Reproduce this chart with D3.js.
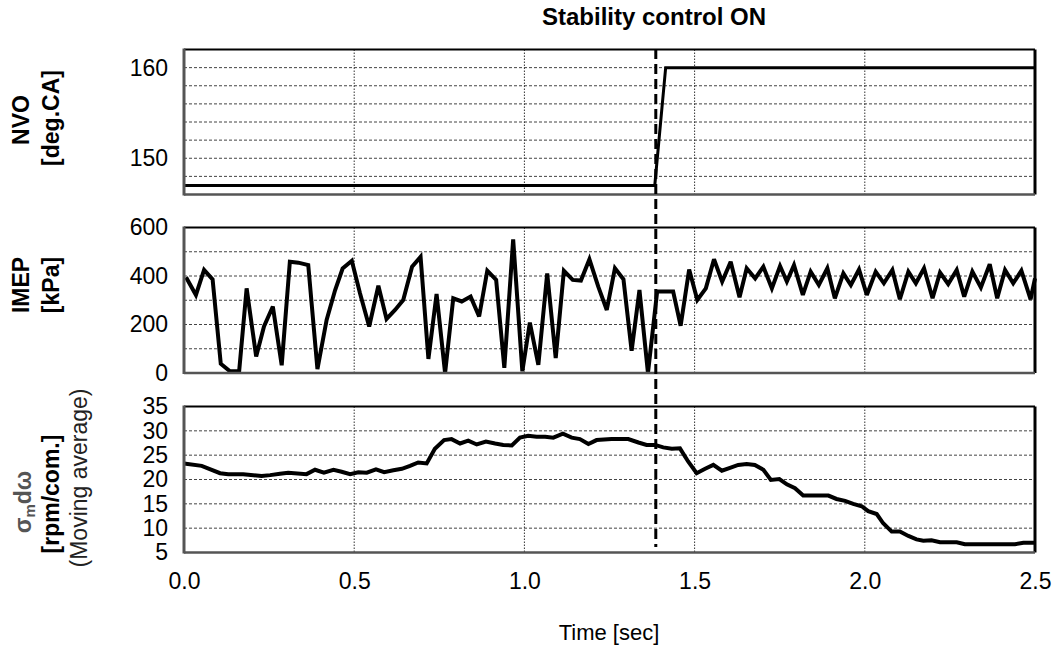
<!DOCTYPE html>
<html>
<head>
<meta charset="utf-8">
<script src="https://cdn.jsdelivr.net/npm/d3@7/dist/d3.min.js"></script>
<style>
  html, body { margin: 0; padding: 0; background: #fff; }
  svg { display: block; font-family: Arial, "Liberation Sans", sans-serif; }
</style>
</head>
<body>
<svg id="chart" width="1057" height="650"></svg>
<script>
// ---- data ----------------------------------------------------------------
// NVO set-point [deg.CA]
const nvoTime  = [0, 1.383, 1.415, 2.5];
const nvoValue = [147, 147, 160, 160];

// Cycle-resolved IMEP [kPa]
const imepTime = [0.006, 0.035, 0.059, 0.084, 0.108, 0.135, 0.162, 0.184, 0.212, 0.235,
  0.261, 0.287, 0.311, 0.336, 0.365, 0.392, 0.419, 0.444, 0.466, 0.493,
  0.517, 0.544, 0.571, 0.595, 0.620, 0.644, 0.670, 0.695, 0.718, 0.742,
  0.767, 0.791, 0.816, 0.842, 0.867, 0.891, 0.917, 0.941, 0.967, 0.994,
  1.016, 1.041, 1.067, 1.092, 1.116, 1.142, 1.166, 1.191, 1.217, 1.242,
  1.266, 1.291, 1.315, 1.338, 1.363, 1.390, 1.413, 1.437, 1.459, 1.484,
  1.508, 1.533, 1.557, 1.581, 1.606, 1.632, 1.653, 1.678, 1.702, 1.727,
  1.751, 1.771, 1.792, 1.818, 1.841, 1.865, 1.890, 1.912, 1.937, 1.959,
  1.983, 2.006, 2.032, 2.056, 2.081, 2.103, 2.128, 2.150, 2.174, 2.199,
  2.221, 2.245, 2.270, 2.292, 2.316, 2.341, 2.367, 2.389, 2.412, 2.436,
  2.460, 2.487, 2.500];
const imepValue = [395, 322, 425, 386, 38, 7, 7, 349, 68, 192,
  274, 32, 459, 455, 445, 16, 219, 342, 431, 463,
  329, 192, 360, 223, 260, 301, 438, 479, 58, 326,
  0, 308, 295, 315, 233, 422, 384, 21, 551, 7,
  208, 34, 411, 62, 422, 384, 381, 469, 356, 260,
  432, 386, 92, 342, 0, 336, 336, 336, 195, 427,
  301, 349, 469, 377, 459, 312, 432, 390, 438, 349,
  441, 377, 445, 322, 418, 363, 432, 308, 411, 363,
  427, 322, 418, 370, 425, 304, 418, 370, 432, 308,
  414, 367, 425, 315, 418, 353, 449, 308, 425, 370,
  422, 304, 390];

// Moving-average standard deviation of crank angular speed [rpm/com.]
const sigmaTime = [0, 0.052, 0.106, 0.130, 0.174, 0.228, 0.253, 0.282, 0.306, 0.360,
  0.385, 0.411, 0.439, 0.463, 0.488, 0.512, 0.537, 0.564, 0.588, 0.615,
  0.640, 0.664, 0.688, 0.713, 0.737, 0.764, 0.786, 0.811, 0.835, 0.860,
  0.887, 0.914, 0.938, 0.963, 0.987, 1.011, 1.036, 1.061, 1.085, 1.113,
  1.139, 1.163, 1.188, 1.212, 1.256, 1.305, 1.335, 1.359, 1.384, 1.408,
  1.433, 1.457, 1.481, 1.506, 1.531, 1.555, 1.580, 1.604, 1.628, 1.653,
  1.677, 1.702, 1.724, 1.749, 1.771, 1.795, 1.819, 1.893, 1.917, 1.942,
  1.966, 1.991, 2.010, 2.035, 2.054, 2.079, 2.103, 2.128, 2.152, 2.172,
  2.196, 2.221, 2.270, 2.294, 2.441, 2.466, 2.500];
const sigmaValue = [23.3, 22.8, 21.3, 21.1, 21.1, 20.7, 20.9, 21.2, 21.4, 21.1,
  22.0, 21.4, 22.0, 21.6, 21.1, 21.5, 21.4, 22.1, 21.5, 21.9,
  22.2, 22.8, 23.5, 23.3, 26.3, 28.1, 28.3, 27.4, 28.0, 27.2,
  27.8, 27.4, 27.1, 27.0, 28.6, 29.0, 28.8, 28.8, 28.6, 29.4,
  28.6, 28.3, 27.3, 28.1, 28.3, 28.3, 27.6, 27.1, 27.1, 26.6,
  26.3, 26.4, 23.7, 21.3, 22.2, 23.0, 21.8, 22.4, 23.0, 23.2,
  23.0, 22.0, 19.9, 20.1, 19.0, 18.2, 16.7, 16.7, 16.0, 15.6,
  15.0, 14.5, 13.5, 12.9, 11.0, 9.3, 9.3, 8.4, 7.7, 7.4,
  7.5, 7.1, 7.1, 6.7, 6.7, 7.0, 7.0];

// Axis ticks and grid levels
const timeTicks  = [0, 0.5, 1.0, 1.5, 2.0, 2.5];
const timeGrid   = [0.5, 1.0, 1.5, 2.0];
const nvoTicks   = [150, 160];
const nvoGrid    = [148, 150, 152, 154, 156, 158, 160];
const imepTicks  = [0, 200, 400, 600];
const imepGrid   = [100, 200, 300, 400, 500];
const sigmaTicks = [5, 10, 15, 20, 25, 30, 35];
const sigmaGrid  = [10, 15, 20, 25, 30];
const controlOnTime = 1.386;

// ---- layout ---------------------------------------------------------------
const svg = d3.select("#chart");
const left = 184, right = 1035;
const x = d3.scaleLinear().domain([0, 2.5]).range([left, right]);

const panels = [
  { key: "nvo",   top: 49.5,  bottom: 194.5, domain: [146, 162],
    ticks: nvoTicks, grid: nvoGrid, t: nvoTime, v: nvoValue, width: 3 },
  { key: "imep",  top: 227.5, bottom: 373,   domain: [0, 600],
    ticks: imepTicks, grid: imepGrid, t: imepTime, v: imepValue, width: 4 },
  { key: "sigma", top: 406.5, bottom: 552.5, domain: [5, 35],
    ticks: sigmaTicks, grid: sigmaGrid, t: sigmaTime, v: sigmaValue, width: 4 }
];

panels.forEach(p => {
  const y = d3.scaleLinear().domain(p.domain).range([p.bottom, p.top]);
  const g = svg.append("g").attr("class", "panel-" + p.key);

  // horizontal dashed grid
  g.selectAll("line.hgrid").data(p.grid).join("line")
    .attr("class", "hgrid")
    .attr("x1", left).attr("x2", right)
    .attr("y1", d => y(d)).attr("y2", d => y(d))
    .attr("stroke", "#444").attr("stroke-width", 1)
    .attr("stroke-dasharray", "3,2");

  // vertical dotted grid
  g.selectAll("line.vgrid").data(timeGrid).join("line")
    .attr("class", "vgrid")
    .attr("x1", d => x(d)).attr("x2", d => x(d))
    .attr("y1", p.top).attr("y2", p.bottom)
    .attr("stroke", "#333").attr("stroke-width", 1)
    .attr("stroke-dasharray", "1.5,1.5");

  // frame: top/right black, left/bottom axis lines grey
  g.append("line").attr("x1", left).attr("x2", right).attr("y1", p.top).attr("y2", p.top)
    .attr("stroke", "#000").attr("stroke-width", 2);
  g.append("line").attr("x1", right).attr("x2", right).attr("y1", p.top).attr("y2", p.bottom)
    .attr("stroke", "#000").attr("stroke-width", 3);

  // data line
  const pts = p.t.map((t, i) => [t, p.v[i]]);
  g.append("path").datum(pts)
    .attr("fill", "none").attr("stroke", "#000")
    .attr("stroke-width", p.width).attr("stroke-linejoin", "miter").attr("stroke-miterlimit", 3)
    .attr("d", d3.line().x(d => x(d[0])).y(d => y(d[1])));

  g.append("line").attr("x1", left).attr("x2", right).attr("y1", p.bottom).attr("y2", p.bottom)
    .attr("stroke", "#555").attr("stroke-width", 2.5);
  g.append("line").attr("x1", left).attr("x2", left).attr("y1", p.top - 1).attr("y2", p.bottom + 1)
    .attr("stroke", "#555").attr("stroke-width", 3);

  // y axis labels
  const ax = g.append("g").attr("transform", `translate(${left},0)`)
    .call(d3.axisLeft(y).tickValues(p.ticks).tickSize(0).tickPadding(16).tickFormat(d3.format("d")));
  ax.select(".domain").remove();
  ax.selectAll("text").attr("font-size", 23).attr("fill", "#000")
    .attr("font-family", "Arial, 'Liberation Sans', sans-serif");
});

// x axis labels under the bottom panel
const xa = svg.append("g").attr("transform", `translate(0,552.5)`)
  .call(d3.axisBottom(x).tickValues(timeTicks).tickSize(0).tickPadding(20).tickFormat(d3.format(".1f")));
xa.select(".domain").remove();
xa.selectAll("text").attr("font-size", 23).attr("fill", "#000")
  .attr("font-family", "Arial, 'Liberation Sans', sans-serif");

// control switch-on marker
svg.append("line")
  .attr("x1", x(controlOnTime)).attr("x2", x(controlOnTime))
  .attr("y1", 49).attr("y2", 547)
  .attr("stroke", "#000").attr("stroke-width", 3).attr("stroke-dasharray", "10,5");

svg.append("text")
  .attr("x", 654).attr("y", 25).attr("text-anchor", "middle")
  .attr("font-size", 24).attr("font-weight", "bold").text("Stability control ON");

svg.append("text")
  .attr("x", 609).attr("y", 640).attr("text-anchor", "middle")
  .attr("font-size", 22).text("Time [sec]");

// rotated axis titles
function vlabel(cx, cy, size, weight, fill) {
  return svg.append("text")
    .attr("transform", `translate(${cx},${cy}) rotate(-90)`)
    .attr("text-anchor", "middle").attr("dominant-baseline", "central")
    .attr("font-size", size).attr("font-weight", weight).attr("fill", fill);
}
vlabel(21, 120, 23, "bold", "#000").text("NVO");
vlabel(51, 118, 23, "bold", "#000").text("[deg.CA]");
vlabel(21, 285, 23, "bold", "#000").text("IMEP");
vlabel(51, 285, 23, "bold", "#000").text("[kPa]");

const sig = vlabel(23, 502, 23, "bold", "#555");
sig.append("tspan").text("σ");
sig.append("tspan").attr("font-size", 15).attr("dy", 6).text("m");
sig.append("tspan").attr("dy", -6).text("dω");
vlabel(51, 494, 23, "bold", "#000").text("[rpm/com.]");
vlabel(79, 478, 23, "normal", "#222").text("(Moving average)");
</script>
</body>
</html>
